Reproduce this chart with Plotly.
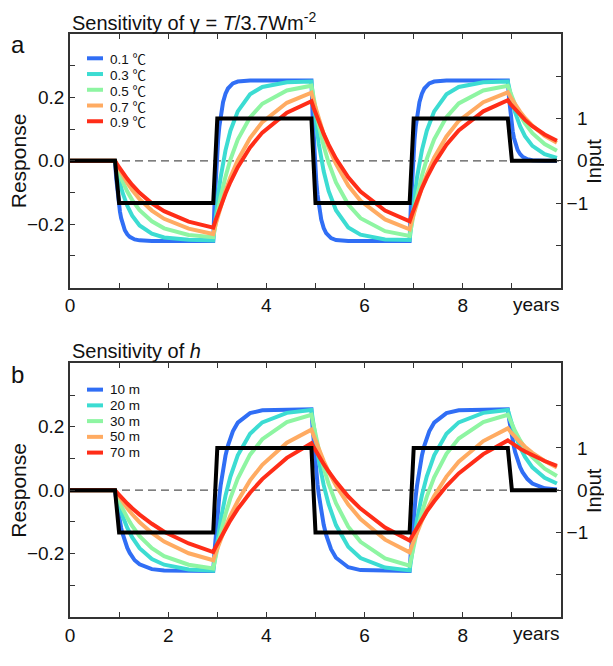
import plotly.graph_objects as go

# time axis (years) for the slower curves
years = [0,
         0.917, 0.967, 1.017, 1.067, 1.167, 1.267, 1.417, 1.667, 1.917, 2.417,
         2.917, 2.967, 3.017, 3.067, 3.167, 3.267, 3.417, 3.667, 3.917, 4.417,
         4.917, 4.967, 5.017, 5.067, 5.167, 5.267, 5.417, 5.667, 5.917, 6.417,
         6.917, 6.967, 7.017, 7.067, 7.167, 7.267, 7.417, 7.667, 7.917, 8.417,
         8.917, 8.967, 9.017, 9.067, 9.167, 9.267, 9.417, 9.667, 9.917]

# denser time axis for the fastest curves
years_fast = [0,
              0.917, 0.942, 0.967, 0.992, 1.017, 1.042, 1.067, 1.117, 1.167, 1.217, 1.317, 1.417, 1.667, 1.917, 2.417,
              2.917, 2.942, 2.967, 2.992, 3.017, 3.042, 3.067, 3.117, 3.167, 3.217, 3.317, 3.417, 3.667, 3.917, 4.417,
              4.917, 4.942, 4.967, 4.992, 5.017, 5.042, 5.067, 5.117, 5.167, 5.217, 5.317, 5.417, 5.667, 5.917, 6.417,
              6.917, 6.942, 6.967, 6.992, 7.017, 7.042, 7.067, 7.117, 7.167, 7.217, 7.317, 7.417, 7.667, 7.917, 8.417,
              8.917, 8.942, 8.967, 8.992, 9.017, 9.042, 9.067, 9.117, 9.167, 9.217, 9.317, 9.417, 9.667, 9.917]

# forcing (right axis)
input_t = [0, 0.917, 1.0, 2.917, 3.0, 4.917, 5.0, 6.917, 7.0, 8.917, 9.0, 9.917]
input_v = [0, 0, -1, -1, 1, 1, -1, -1, 1, 1, 0, 0]

# panel a: sensitivity of gamma
labels_a = ["0.1 ℃", "0.3 ℃", "0.5 ℃", "0.7 ℃", "0.9 ℃"]
a_01 = [0,
        0, -0.056, -0.100, -0.134, -0.160, -0.181, -0.197, -0.219, -0.232, -0.240, -0.248, -0.251, -0.253, -0.253, -0.253,
        -0.253, -0.141, -0.054, 0.014, 0.067, 0.108, 0.140, 0.185, 0.212, 0.228, 0.244, 0.250, 0.253, 0.253, 0.253,
        0.253, 0.141, 0.054, -0.014, -0.067, -0.108, -0.140, -0.185, -0.212, -0.228, -0.244, -0.250, -0.253, -0.253, -0.253,
        -0.253, -0.141, -0.054, 0.014, 0.067, 0.108, 0.140, 0.185, 0.212, 0.228, 0.244, 0.250, 0.253, 0.253, 0.253,
        0.253, 0.197, 0.153, 0.120, 0.093, 0.072, 0.056, 0.034, 0.021, 0.013, 0.005, 0.002, 0.000, 0.000]
a_03 = [0,
        0, -0.039, -0.071, -0.099, -0.142, -0.173, -0.204, -0.230, -0.242, -0.249,
        -0.251, -0.174, -0.109, -0.053, 0.033, 0.095, 0.156, 0.210, 0.233, 0.248,
        0.250, 0.174, 0.108, 0.053, -0.033, -0.095, -0.156, -0.210, -0.233, -0.248,
        -0.250, -0.174, -0.109, -0.053, 0.033, 0.095, 0.156, 0.210, 0.233, 0.248,
        0.250, 0.212, 0.179, 0.152, 0.109, 0.078, 0.047, 0.021, 0.009]
a_05 = [0,
        0, -0.023, -0.045, -0.064, -0.097, -0.124, -0.156, -0.191, -0.213, -0.234,
        -0.241, -0.195, -0.153, -0.115, -0.050, 0.004, 0.067, 0.137, 0.180, 0.222,
        0.237, 0.191, 0.150, 0.112, 0.047, -0.006, -0.068, -0.138, -0.181, -0.222,
        -0.237, -0.191, -0.150, -0.112, -0.047, 0.006, 0.068, 0.138, 0.181, 0.222,
        0.237, 0.215, 0.194, 0.176, 0.144, 0.118, 0.087, 0.053, 0.032]
a_07 = [0,
        0, -0.016, -0.031, -0.045, -0.070, -0.092, -0.121, -0.157, -0.183, -0.214,
        -0.231, -0.200, -0.171, -0.144, -0.095, -0.052, 0.002, 0.072, 0.122, 0.183,
        0.215, 0.185, 0.157, 0.131, 0.084, 0.042, -0.010, -0.078, -0.126, -0.185,
        -0.216, -0.186, -0.158, -0.132, -0.084, -0.043, 0.010, 0.077, 0.126, 0.185,
        0.216, 0.202, 0.189, 0.177, 0.155, 0.135, 0.111, 0.079, 0.057]
a_09 = [0,
        0, -0.013, -0.025, -0.036, -0.057, -0.076, -0.101, -0.134, -0.159, -0.192,
        -0.211, -0.187, -0.164, -0.143, -0.103, -0.067, -0.020, 0.042, 0.089, 0.152,
        0.188, 0.165, 0.144, 0.123, 0.085, 0.051, 0.007, -0.052, -0.097, -0.157,
        -0.191, -0.168, -0.146, -0.125, -0.087, -0.053, -0.009, 0.051, 0.096, 0.156,
        0.191, 0.180, 0.171, 0.161, 0.144, 0.129, 0.109, 0.083, 0.063]

# panel b: sensitivity of h
labels_b = ["10 m", "20 m", "30 m", "50 m", "70 m"]
b_10 = [0,
        0, -0.030, -0.056, -0.080, -0.100, -0.119, -0.135, -0.161, -0.182, -0.198, -0.221, -0.234, -0.249, -0.253, -0.255,
        -0.255, -0.195, -0.142, -0.096, -0.054, -0.018, 0.014, 0.067, 0.109, 0.141, 0.186, 0.213, 0.243, 0.252, 0.255,
        0.255, 0.195, 0.142, 0.096, 0.054, 0.018, -0.014, -0.067, -0.109, -0.141, -0.186, -0.213, -0.243, -0.252, -0.255,
        -0.255, -0.195, -0.142, -0.096, -0.054, -0.018, 0.014, 0.067, 0.109, 0.141, 0.186, 0.213, 0.243, 0.252, 0.255,
        0.255, 0.225, 0.199, 0.175, 0.155, 0.137, 0.120, 0.094, 0.073, 0.057, 0.035, 0.021, 0.006, 0.002]
b_20 = [0,
        0, -0.030, -0.057, -0.080, -0.119, -0.149, -0.183, -0.217, -0.235, -0.250,
        -0.254, -0.194, -0.141, -0.095, -0.017, 0.043, 0.110, 0.178, 0.214, 0.244,
        0.253, 0.193, 0.140, 0.094, 0.016, -0.044, -0.110, -0.178, -0.214, -0.244,
        -0.253, -0.193, -0.140, -0.094, -0.016, 0.044, 0.110, 0.178, 0.214, 0.244,
        0.253, 0.223, 0.197, 0.174, 0.135, 0.105, 0.072, 0.039, 0.021]
b_30 = [0,
        0, -0.020, -0.039, -0.057, -0.087, -0.113, -0.145, -0.183, -0.208, -0.235,
        -0.247, -0.207, -0.170, -0.136, -0.076, -0.025, 0.037, 0.112, 0.161, 0.215,
        0.238, 0.199, 0.162, 0.129, 0.070, 0.020, -0.041, -0.115, -0.163, -0.215,
        -0.238, -0.199, -0.162, -0.129, -0.070, -0.020, 0.041, 0.115, 0.163, 0.215,
        0.238, 0.219, 0.202, 0.186, 0.157, 0.133, 0.104, 0.068, 0.045]
b_50 = [0,
        0, -0.012, -0.024, -0.036, -0.057, -0.076, -0.101, -0.135, -0.162, -0.199,
        -0.221, -0.198, -0.176, -0.155, -0.116, -0.080, -0.034, 0.031, 0.080, 0.150,
        0.191, 0.170, 0.149, 0.129, 0.092, 0.059, 0.015, -0.045, -0.091, -0.156,
        -0.196, -0.174, -0.153, -0.133, -0.096, -0.062, -0.018, 0.043, 0.090, 0.155,
        0.195, 0.185, 0.176, 0.168, 0.152, 0.137, 0.118, 0.092, 0.072]
b_70 = [0,
        0, -0.009, -0.018, -0.026, -0.042, -0.057, -0.077, -0.106, -0.131, -0.168,
        -0.195, -0.179, -0.164, -0.149, -0.121, -0.095, -0.059, -0.008, 0.035, 0.102,
        0.148, 0.134, 0.120, 0.107, 0.082, 0.059, 0.027, -0.020, -0.058, -0.118,
        -0.159, -0.145, -0.131, -0.117, -0.091, -0.067, -0.035, 0.013, 0.053, 0.114,
        0.157, 0.151, 0.146, 0.141, 0.131, 0.122, 0.110, 0.092, 0.077]

series_a = [(years_fast, a_01), (years, a_03), (years, a_05), (years, a_07), (years, a_09)]
series_b = [(years_fast, b_10), (years, b_20), (years, b_30), (years, b_50), (years, b_70)]

colors = ["#306ef5", "#3cdcd2", "#8ef5a2", "#ffab62", "#ff2d18"]

xticks = [0, 1, 2, 3, 4, 5, 6, 7, 8, 9]
xtext_a = ["0", "", "", "", "4", "", "6", "", "8", ""]
xtext_b = ["0", "", "2", "", "4", "", "6", "", "8", ""]
rticks = [-0.3, -0.2, -0.1, 0, 0.1, 0.2, 0.3]
rtext = ["", "\u22120.2", "", "0.0", "", "0.2", ""]
iticks = [-2, -1, 0, 1, 2]
itext = ["", "\u22121", "\u20070", "\u20071", ""]

FONT = "Liberation Sans, Arial, sans-serif"
AX = "#333333"

fig = go.Figure()

panels = [
    ("x", "y3", "y", series_a, labels_a),
    ("x2", "y4", "y2", series_b, labels_b),
]
for xa, ya_in, ya_resp, series, labels in panels:
    fig.add_trace(go.Scatter(x=input_t, y=input_v, mode="lines",
                             line=dict(color="black", width=4),
                             xaxis=xa, yaxis=ya_in, showlegend=False,
                             hoverinfo="skip"))
    for (xs, ys), lab, col in zip(series, labels, colors):
        fig.add_trace(go.Scatter(x=xs, y=ys, mode="lines", name=lab,
                                 line=dict(color=col, width=4),
                                 xaxis=xa, yaxis=ya_resp, showlegend=False))

xcommon = dict(range=[0, 10], tickvals=xticks, ticks="inside", ticklen=5,
               tickcolor=AX, showline=True, linecolor=AX, linewidth=1.5,
               mirror="ticks", showgrid=False, zeroline=False,
               tickfont=dict(size=19))
ycommon = dict(range=[-0.4, 0.4], tickvals=rticks, ticktext=rtext,
               ticks="inside", ticklen=5, tickcolor=AX, showline=True,
               linecolor=AX, linewidth=1.5, showgrid=False, zeroline=False,
               tickfont=dict(size=19))
icommon = dict(range=[-3, 3], tickvals=iticks, ticktext=itext, side="right",
               ticks="inside", ticklen=5, tickcolor=AX, showline=True,
               linecolor=AX, linewidth=1.5, showgrid=False, zeroline=False,
               tickfont=dict(size=19))

# panel height, gap between panels (px)
PH, GAP = 261, 78
area = 2 * PH + GAP
top_dom = [(PH + GAP) / area, 1.0]
bot_dom = [0.0, PH / area]

# the page body adds an 8px margin, so keep the figure small enough
# that the page never overflows the 613x666 window
W, H, T = 596, 650, 26
fig.update_layout(
    width=W, height=H,
    margin=dict(l=62, r=43, t=T, b=H - T - area),
    paper_bgcolor="white", plot_bgcolor="white",
    font=dict(family=FONT, size=19, color="#111111"),
    xaxis=dict(xcommon, domain=[0, 1], anchor="y", ticktext=xtext_a),
    xaxis2=dict(xcommon, domain=[0, 1], anchor="y2", ticktext=xtext_b),
    yaxis=dict(ycommon, domain=top_dom, anchor="x"),
    yaxis2=dict(ycommon, domain=bot_dom, anchor="x2"),
    yaxis3=dict(icommon, overlaying="y", anchor="x"),
    yaxis4=dict(icommon, overlaying="y2", anchor="x2"),
    showlegend=False,
)

# dashed zero lines
for xr, yr in [("x domain", "y"), ("x2 domain", "y2")]:
    fig.add_shape(type="line", xref=xr, yref=yr, x0=0, x1=1, y0=0, y1=0,
                  line=dict(color="#555555", width=1.3, dash="8px,5px"),
                  layer="below")

ann = []
deg = '<span style="font-family:Noto Sans CJK SC">℃</span>'
for xd, yd, title, letter, labels, top in [
        ("x domain", "y domain",
         "Sensitivity of γ = <i>T</i>/3.7Wm<sup>-2</sup>", "a", labels_a, 25),
        ("x2 domain", "y2 domain",
         "Sensitivity of <i>h</i>", "b", labels_b, 27)]:
    ann.append(dict(xref=xd, yref=yd, x=0, y=1 + 13 / PH, xanchor="left",
                    yanchor="middle", text=title, showarrow=False,
                    font=dict(size=20)))
    ann.append(dict(xref=xd, yref=yd, x=-0.106, y=1 - 11 / PH, xanchor="center",
                    yanchor="middle", text=letter, showarrow=False,
                    font=dict(size=24)))
    ann.append(dict(xref=xd, yref=yd, x=-0.105, y=0.5, xanchor="center",
                    yanchor="middle", text="Response", textangle=-90,
                    showarrow=False, font=dict(size=21)))
    ann.append(dict(xref=xd, yref=yd, x=1.067, y=0.5, xanchor="center",
                    yanchor="middle", text="Input", textangle=-90,
                    showarrow=False, borderpad=0, font=dict(size=20)))
    ann.append(dict(xref=xd, yref=yd, x=1.0, y=-17 / PH, xanchor="right",
                    yanchor="middle", text="years", showarrow=False,
                    font=dict(size=19)))
    # legend keys drawn by hand to get the tight row spacing of the original
    for i, (lab, col) in enumerate(zip(labels, colors)):
        yk = 1 - (top + 16.2 * i) / PH
        fig.add_shape(type="line", xref=xd, yref=yd, x0=0.0346, x1=0.0672,
                      y0=yk, y1=yk, line=dict(color=col, width=4))
        ann.append(dict(xref=xd, yref=yd, x=0.079, y=yk, xanchor="left",
                        yanchor="middle", text=lab.replace("℃", deg),
                        showarrow=False, borderpad=0,
                        font=dict(size=13.5)))
fig.update_layout(annotations=ann)

fig.write_html("out.html")
